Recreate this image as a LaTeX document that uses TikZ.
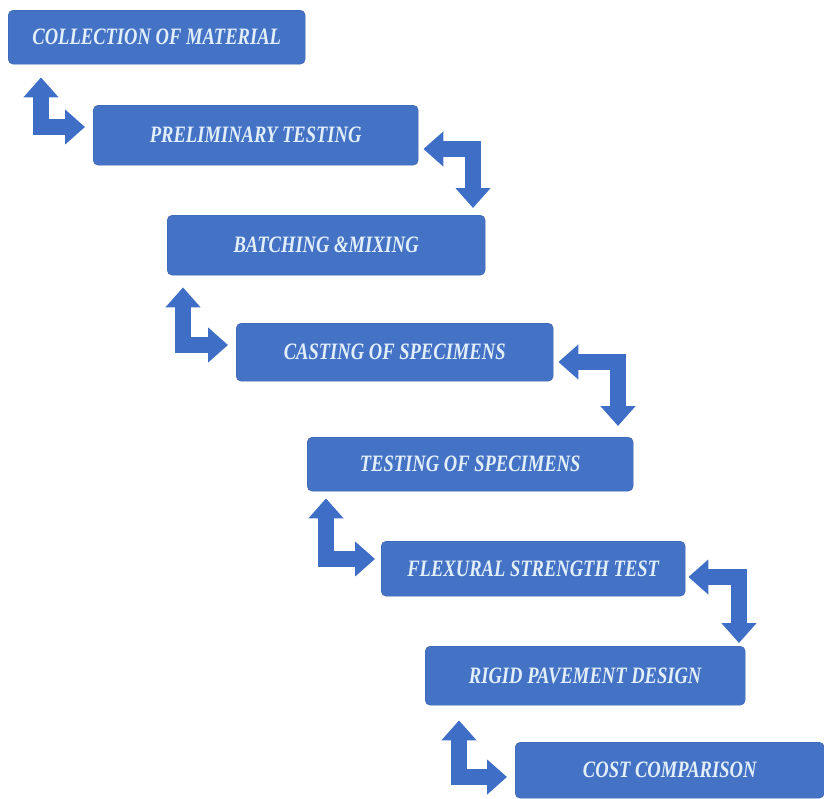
\documentclass[tikz,border=0pt]{standalone}
\usepackage{fontspec}
\setmainfont{Liberation Serif}
\newfontfamily\stepfont{Liberation Serif}[FakeStretch=0.79]
\usetikzlibrary{arrows.meta}
\definecolor{boxblue}{RGB}{68,114,196}
\definecolor{boxedge}{RGB}{58,96,168}
\definecolor{arrowblue}{RGB}{62,110,198}
\definecolor{steptext}{RGB}{226,238,250}

\begin{document}
\begin{tikzpicture}[x=1pt,y=-1pt,
			stepbox/.style={draw=boxedge,fill=boxblue,rounded corners=5pt,anchor=north west,
				text=steptext,font=\stepfont\bfseries\itshape\fontsize{23.5}{23.5}\selectfont,inner sep=0pt},
			flow/.style={draw=arrowblue,line width=16pt,line join=miter,
				{Triangle[width=34pt,length=20pt]}-{Triangle[width=34pt,length=20pt]}}]
			\useasboundingbox (0,0) rectangle (824,798);
			% steps
			\node[stepbox,minimum width=297pt,minimum height=54pt] (p1) at (8,10) {COLLECTION OF MATERIAL};
			\node[stepbox,minimum width=325pt,minimum height=60pt] (p2) at (93,105) {PRELIMINARY TESTING};
			\node[stepbox,minimum width=318pt,minimum height=60pt] (p3) at (167,215) {BATCHING \&MIXING};
			\node[stepbox,minimum width=317pt,minimum height=58pt] (p4) at (236,323) {CASTING OF SPECIMENS};
			\node[stepbox,minimum width=326pt,minimum height=54pt] (p5) at (307,437) {TESTING OF SPECIMENS};
			\node[stepbox,minimum width=304pt,minimum height=55pt] (p6) at (381,541) {FLEXURAL STRENGTH TEST};
			\node[stepbox,minimum width=320pt,minimum height=59pt] (p7) at (425,646) {RIGID PAVEMENT DESIGN};
			\node[stepbox,minimum width=309pt,minimum height=56pt] (p8) at (515,742) {COST COMPARISON};
			% bends
			\coordinate (k1) at (41,127);
			\coordinate (k2) at (473,149);
			\coordinate (k3) at (183,345);
			\coordinate (k4) at (618,362);
			\coordinate (k5) at (326,559);
			\coordinate (k6) at (739,577);
			\coordinate (k7) at (459,777);
			% arrows
			\draw[flow] ([yshift=-13pt]p1.south -| k1) |- ([xshift=-8pt]p2.west |- k1);
			\draw[flow] ([xshift=5pt]p2.east |- k2) -| ([yshift=7pt]p3.north -| k2);
			\draw[flow] ([yshift=-12pt]p3.south -| k3) |- ([xshift=-8pt]p4.west |- k3);
			\draw[flow] ([xshift=5pt]p4.east |- k4) -| ([yshift=11pt]p5.north -| k4);
			\draw[flow] ([yshift=-7pt]p5.south -| k5) |- ([xshift=-6pt]p6.west |- k5);
			\draw[flow] ([xshift=3pt]p6.east |- k6) -| ([yshift=3pt]p7.north -| k6);
			\draw[flow] ([yshift=-15pt]p7.south -| k7) |- ([xshift=-8pt]p8.west |- k7);
\end{tikzpicture}
\end{document}
